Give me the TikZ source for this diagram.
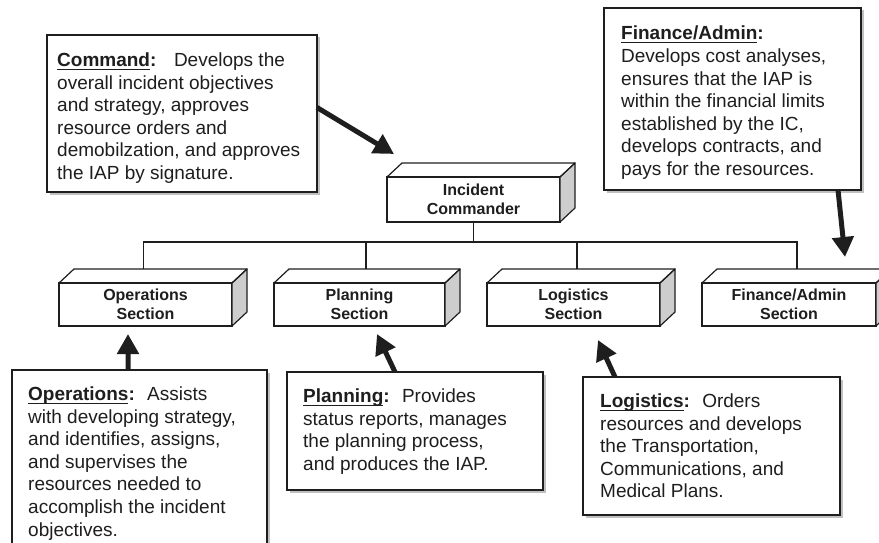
\documentclass[tikz,border=0pt]{standalone}
\usepackage{fontspec}
\setmainfont{Liberation Sans}
\usepackage{tikz}
\usetikzlibrary{positioning,arrows.meta,shadows}
\definecolor{cink}{RGB}{30,30,30}
\definecolor{cside}{RGB}{205,205,205}
\definecolor{cshade}{RGB}{150,150,150}
\newcommand{\hdline}[1]{\setbox0\hbox{#1}\rlap{\rule[-3.5bp]{\wd0}{1.3bp}}\box0}

\begin{document}
\begin{tikzpicture}[x=1bp, y=-1bp,
      sect/.style={draw=cink, line width=1.2bp, fill=white, minimum width=173bp, minimum height=43bp,
                   outer sep=0pt, inner sep=0pt, align=center, text=cink, yshift=-2bp,
                   font=\fontsize{16bp}{19bp}\selectfont\bfseries},
      face/.style={draw=cink, line width=1.2bp, line join=round},
      panel/.style={draw=cink, line width=1.5bp, fill=white, outer sep=0pt, inner sep=0pt, anchor=north west,
                    drop shadow={shadow xshift=2.5bp, shadow yshift=-2.5bp, fill=cshade, opacity=0.6}},
      desc/.style={anchor=north west, inner sep=0pt, align=left, text=cink,
                   font=\fontsize{19bp}{22.6bp}\selectfont},
      wire/.style={draw=cink, line width=1.2bp},
      pointer/.style={-{Triangle[length=20bp, width=21bp]}, line width=5bp, cink}
    ]
    \useasboundingbox (0,0) rectangle (879,543);

    % sections
    \node[sect, minimum height=45bp] (ic) at (473.5,197.5) {Incident\\Commander};
    \node[sect] (ops) at (145.5,302.5) {Operations\\Section};
    \node[sect, minimum width=171bp] (plan) at (359.5,302.5) {Planning\\Section};
    \node[sect] (log) at (573.5,302.5) {Logistics\\Section};
    \node[sect, minimum width=174bp] (fin) at (789,302.5) {Finance/Admin\\Section};
    \foreach \n in {ic,ops,plan,log,fin} {
      \filldraw[face, fill=cside] (\n.north east) -- ++(15,-14) -- ([shift={(15,-14)}]\n.south east)
        -- (\n.south east) -- cycle;
      \draw[face] (\n.north west) -- ++(15,-14) -- ([shift={(15,-14)}]\n.north east) -- (\n.north east);
    }

    \draw[wire] (ic.south) -- ++(0,20) coordinate (bus);
    \foreach \n/\dx in {ops/-2, plan/6.5, log/3.5, fin/8}
      \draw[wire] (bus) -| ([shift={(\dx,-14)}]\n.north);

    % text panels
    \node[panel, minimum width=270bp, minimum height=157bp] (cmdbox) at (47,35) {};
    \node[desc] (cmdtext) at (57,52.5) {\textbf{\hdline{Command}:}~~ Develops the\\
      overall incident objectives\\ and strategy, approves\\ resource orders and\\
      demobilzation, and approves\\ the IAP by signature.};

    \node[panel, minimum width=257bp, minimum height=182bp] (finbox) at (604,8) {};
    \node[desc] (fintext) at (621,26) {\textbf{\hdline{Finance/Admin}:}\\ Develops cost analyses,\\
      ensures that the IAP is\\ within the financial limits\\ established by the IC,\\
      develops contracts, and\\ pays for the resources.};

    \node[panel, minimum width=255bp, minimum height=200bp] (opsbox) at (12,370) {};
    \node[desc] (opstext) at (28,386.5) {\textbf{\hdline{Operations}:}~ Assists\\
      with developing strategy,\\ and identifies, assigns,\\ and supervises the\\
      resources needed to\\ accomplish the incident\\ objectives.};

    \node[panel, minimum width=256bp, minimum height=118bp] (planbox) at (287,372) {};
    \node[desc] (plantext) at (303,388.5) {\textbf{\hdline{Planning}:}~ Provides\\
      status reports, manages\\ the planning process,\\ and produces the IAP.};

    \node[panel, minimum width=257bp, minimum height=138bp] (logbox) at (583,377) {};
    \node[desc] (logtext) at (600,393.5) {\textbf{\hdline{Logistics}:}~ Orders\\
      resources and develops\\ the Transportation,\\ Communications, and\\ Medical Plans.};

    % pointers
    \draw[pointer] ([yshift=6bp]cmdbox.east) -- ([shift={(7,-23)}]ic.north west);
    \draw[pointer] ([xshift=-23bp]finbox.south east) -- ([shift={(-31,-26)}]fin.north east);
    \draw[pointer] ([xshift=-11.5bp]opsbox.north) -- ([shift={(-17.5,8)}]ops.south);
    \draw[pointer] ([xshift=-20bp]planbox.north) -- ([shift={(17.5,8)}]plan.south);
    \draw[pointer] ([xshift=32bp]logbox.north west) -- ([shift={(24.5,14)}]log.south);
  \end{tikzpicture}
\end{document}
